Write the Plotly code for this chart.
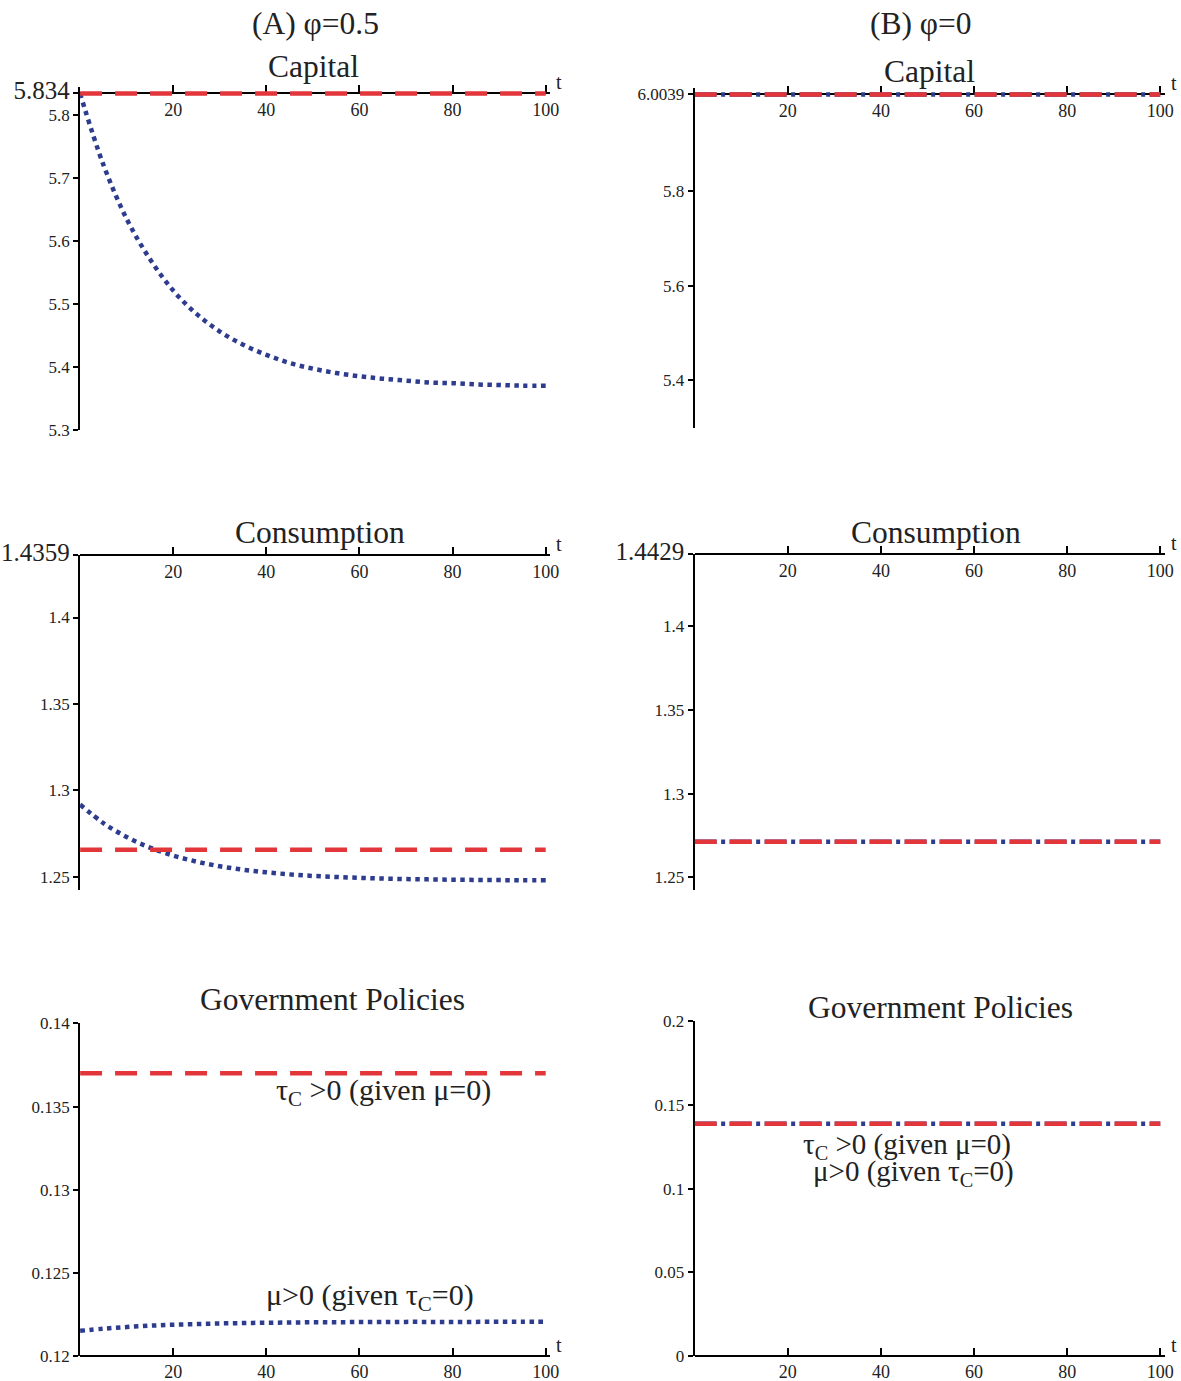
import plotly.graph_objects as go

# ---------------- data ----------------
t_curve = [0, 5, 10, 15, 20, 25, 30, 35, 40, 45, 50, 55, 60, 65, 70, 75, 80, 85, 90, 95, 100]
t_flat = [0, 100]

# (A) phi = 0.5
capA_mu = [5.834, 5.721, 5.635, 5.571, 5.521, 5.484, 5.456, 5.435, 5.419, 5.406, 5.397,
           5.390, 5.385, 5.381, 5.378, 5.375, 5.374, 5.372, 5.371, 5.370, 5.370]
capA_tau = [5.834, 5.834]
consA_mu = [1.2918, 1.2811, 1.2730, 1.2669, 1.2623, 1.2588, 1.2561, 1.2541, 1.2526, 1.2514, 1.2505,
            1.2499, 1.2494, 1.2490, 1.2487, 1.2485, 1.2483, 1.2482, 1.2481, 1.2480, 1.2480]
consA_tau = [1.2657, 1.2657]
govA_mu = [0.12150, 0.12163, 0.12173, 0.12181, 0.12187, 0.12191, 0.12195, 0.12197, 0.12199, 0.12200,
           0.12202, 0.12202, 0.12203, 0.12203, 0.12204, 0.12204, 0.12204, 0.12204, 0.12205, 0.12205, 0.12205]
govA_tau = [0.1370, 0.1370]

# (B) phi = 0
capB_mu = [6.0039, 6.0039]
capB_tau = [6.0039, 6.0039]
consB_mu = [1.2712, 1.2712]
consB_tau = [1.2712, 1.2712]
govB_mu = [0.1388, 0.1388]
govB_tau = [0.1388, 0.1388]

x_ticks = [20, 40, 60, 80, 100]
BIG = "<span style='font-size:25px'>%s</span>"
capA_ticks = [5.3, 5.4, 5.5, 5.6, 5.7, 5.8, 5.834]
capA_ticktext = ["5.3", "5.4", "5.5", "5.6", "5.7", "5.8", BIG % "5.834"]
consA_ticks = [1.25, 1.3, 1.35, 1.4, 1.4359]
consA_ticktext = ["1.25", "1.3", "1.35", "1.4", BIG % "1.4359"]
govA_ticks = [0.12, 0.125, 0.13, 0.135, 0.14]
govA_ticktext = ["0.12", "0.125", "0.13", "0.135", "0.14"]
capB_ticks = [5.4, 5.6, 5.8, 6.0039]
capB_ticktext = ["5.4", "5.6", "5.8", "6.0039"]
consB_ticks = [1.25, 1.3, 1.35, 1.4, 1.4429]
consB_ticktext = ["1.25", "1.3", "1.35", "1.4", BIG % "1.4429"]
govB_ticks = [0, 0.05, 0.1, 0.15, 0.2]
govB_ticktext = ["0", "0.05", "0.1", "0.15", "0.2"]

# ---------------- layout helpers ----------------
W, H = 1200, 1400
# measured figure -> picture mapping of the capture
SX, SY, MX, MY = 0.994, 0.9835, -0.7, 12.6
RED = "#e2363b"
BLUE = "#2d3c8e"
FONT = "Liberation Serif"
TXT = "#222222"


def fx(p):
    return (p / SX - MX) / W


def fy(p):
    return 1 - (p / SY - MY) / H


fig = go.Figure()

RED_DASH = "22px,13px"
BLUE_DOT = "4.5px,4.5px"
BLUE_DASHDOT = "22px,4.5px,4px,4.5px"

panels = [
    dict(i=1, xd=(79.5, 550.5), yd=(427, 84), yr=[5.3, 5.8436], tv=capA_ticks, tt=capA_ticktext, pos=90),
    dict(i=2, xd=(695, 1166), yd=(425, 85), yr=[5.3, 6.0165], tv=capB_ticks, tt=capB_ticktext, pos=91),
    dict(i=3, xd=(79.5, 550.5), yd=(888, 553), yr=[1.2425, 1.4359], tv=consA_ticks, tt=consA_ticktext, pos=553),
    dict(i=4, xd=(695, 1166), yd=(888, 552), yr=[1.2425, 1.4429], tv=consB_ticks, tt=consB_ticktext, pos=552),
    dict(i=5, xd=(79.5, 550.5), yd=(1355, 1022), yr=[0.12, 0.14], tv=govA_ticks, tt=govA_ticktext, pos=1355),
    dict(i=6, xd=(695, 1166), yd=(1355, 1020), yr=[0, 0.2], tv=govB_ticks, tt=govB_ticktext, pos=1355),
]

series = {
    1: [(t_curve, capA_mu, BLUE, BLUE_DOT), (t_flat, capA_tau, RED, RED_DASH)],
    2: [(t_flat, capB_mu, BLUE, BLUE_DASHDOT), (t_flat, capB_tau, RED, RED_DASH)],
    3: [(t_curve, consA_mu, BLUE, BLUE_DOT), (t_flat, consA_tau, RED, RED_DASH)],
    4: [(t_flat, consB_mu, BLUE, BLUE_DASHDOT), (t_flat, consB_tau, RED, RED_DASH)],
    5: [(t_curve, govA_mu, BLUE, BLUE_DOT), (t_flat, govA_tau, RED, RED_DASH)],
    6: [(t_flat, govB_mu, BLUE, BLUE_DASHDOT), (t_flat, govB_tau, RED, RED_DASH)],
}

annotations = []
for p in panels:
    i = p["i"]
    sfx = "" if i == 1 else str(i)
    xa = "x" + sfx
    ya = "y" + sfx
    for (xs, ys, col, dash) in series[i]:
        fig.add_trace(go.Scatter(
            x=xs, y=ys, mode="lines", xaxis=xa, yaxis=ya, showlegend=False,
            line=dict(color=col, width=4.5, dash=dash, shape="spline"),
            hoverinfo="skip"))

    xaxis = dict(
        domain=[fx(p["xd"][0]), fx(p["xd"][1])], range=[0, 101],
        anchor="free", position=fy(p["pos"]), side="bottom", ticks="inside",
        tickvals=x_ticks, showline=True, linecolor="black", linewidth=2,
        showgrid=False, zeroline=False, ticklen=7, tickwidth=2, tickcolor="black",
        tickfont=dict(family=FONT, size=18, color=TXT), layer="below traces",
        fixedrange=True,
    )
    yaxis = dict(
        domain=[fy(p["yd"][0]), fy(p["yd"][1])], range=p["yr"], anchor=xa,
        tickvals=p["tv"], ticktext=p["tt"], showline=True, linecolor="black",
        linewidth=2, showgrid=False, zeroline=False, ticks="outside", ticklen=5,
        tickwidth=1.5, tickcolor="black",
        tickfont=dict(family=FONT, size=17, color=TXT), layer="below traces",
        fixedrange=True,
    )
    fig.update_layout(**{"xaxis" + sfx: xaxis, "yaxis" + sfx: yaxis})

    # axis label "t"
    annotations.append(dict(x=fx(p["xd"][1] + 4), y=fy(p["pos"] + 2), xref="paper", yref="paper",
                            text="t", showarrow=False, xanchor="left", yanchor="bottom",
                            font=dict(family=FONT, size=20, color=TXT)))


def title(text, xp, yp, size=31.5):
    annotations.append(dict(x=fx(xp), y=fy(yp), xref="paper", yref="paper", text=text,
                            showarrow=False, xanchor="center", yanchor="middle",
                            font=dict(family=FONT, size=size, color=TXT)))


title("(A) φ=0.5", 315, 20)
title("(B) φ=0", 922, 20)
title("Capital", 313, 63)
title("Capital", 930, 68)
title("Consumption", 320, 530)
title("Consumption", 937, 530)
title("Government Policies", 332, 998)
title("Government Policies", 941, 1006)
title("τ<sub>C</sub> >0 (given μ=0)", 383, 1091, 30)
title("μ>0 (given τ<sub>C</sub>=0)", 370, 1296, 30)
title("τ<sub>C</sub> >0 (given μ=0)", 908, 1145, 29)
title("μ>0 (given τ<sub>C</sub>=0)", 914, 1172, 29)

fig.update_layout(
    width=W, height=H, margin=dict(l=0, r=0, t=0, b=0),
    paper_bgcolor="white", plot_bgcolor="white",
    annotations=annotations, showlegend=False,
)

# place the figure flush with the page corner (no default body margin, no scrollbars)
page_fix = ("document.documentElement.style.margin='0';document.body.style.margin='0';"
            "document.documentElement.style.overflow='hidden';document.body.style.overflow='hidden';")
fig.write_html("out.html", post_script=page_fix, config={"displayModeBar": False})
